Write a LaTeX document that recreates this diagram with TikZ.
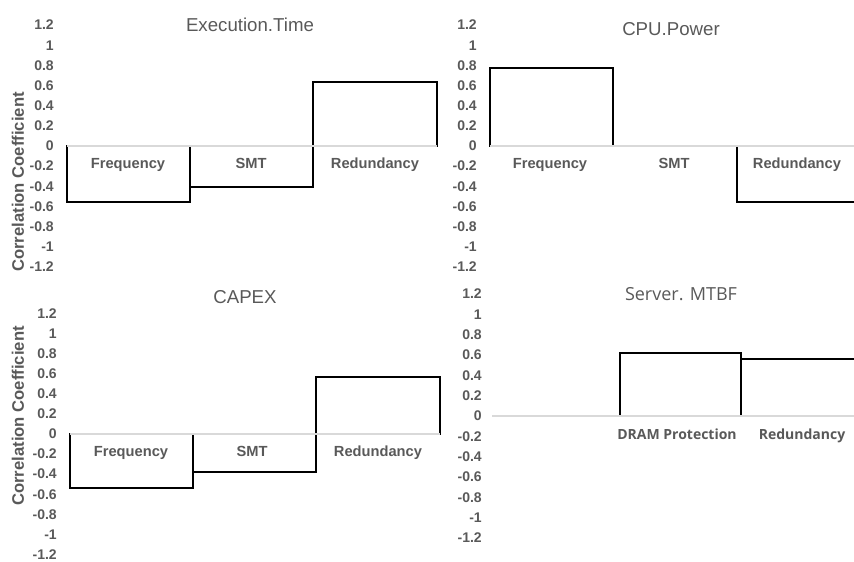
\documentclass[tikz,border=0pt]{standalone}
\usepackage{fontspec}
\setmainfont{Liberation Sans}
\newfontfamily\segoe{Open Sans}
\definecolor{txtgray}{HTML}{595959}
\definecolor{axgray}{HTML}{D9D9D9}

\begin{document}
\begin{tikzpicture}[x=0.75pt,y=-0.75pt,
  tick/.style={anchor=east,text=txtgray,inner sep=0pt,font=\bfseries\fontsize{10.5}{12}\selectfont},
  cat/.style={anchor=base,text=txtgray,inner sep=0pt,font=\bfseries\fontsize{11}{13}\selectfont},
  ttl/.style={anchor=base,text=txtgray,inner sep=0pt,font=\fontsize{14}{16}\selectfont},
  ylab/.style={rotate=90,text=txtgray,inner sep=0pt,font=\bfseries\fontsize{12.5}{14}\selectfont},
  bar/.style={draw=black,fill=white,line width=0.9pt},
  zero/.style={draw=axgray,line width=1pt}]
\useasboundingbox (0,0) rectangle (854,561);

% tick labels of the four panels
\foreach \px/\zy/\u/\p in {54/146/100.8/a, 477/146/100.8/b, 57/434/100.4/c, 482/416/101.7/d}
  \foreach \v [count=\i] in {1.2,1,0.8,0.6,0.4,0.2,0,-0.2,-0.4,-0.6,-0.8,-1,-1.2}
    \node[tick] (\p\i) at (\px,{\zy-\v*\u}) {\v};

% Execution.Time
\draw[bar] (67,146) rectangle (190,202);
\draw[bar] (190,146) rectangle (313,187);
\draw[bar] (313,146) rectangle (437,82);
\draw[zero] (67,146) -- (437,146);
\node[ttl] (ttlA) at (250,31) {Execution.Time};
\node[cat] (freqA) at (128,168) {Frequency};
\node[cat] (smtA) at (251,168) {SMT};
\node[cat] (redA) at (375,168) {Redundancy};
\node[ylab] (ylabA) at (18,182) {Correlation Coefficient};

% CPU.Power
\draw[bar] (490,146) rectangle (613,68);
\draw[bar,fill=none] (737,146) -- (737,202) -- (854,202);
\draw[zero] (490,146) -- (854,146);
\node[ttl] (ttlB) at (671,35) {CPU.Power};
\node[cat] (freqB) at (550,168) {Frequency};
\node[cat] (smtB) at (674,168) {SMT};
\node[cat] (redB) at (797,168) {Redundancy};

% CAPEX
\draw[bar] (70,434) rectangle (193,488);
\draw[bar] (193,434) rectangle (316,472);
\draw[bar] (316,434) rectangle (440,377);
\draw[zero] (70,434) -- (440,434);
\node[ttl] (ttlC) at (245,303) {CAPEX};
\node[cat] (freqC) at (131,456) {Frequency};
\node[cat] (smtC) at (252,456) {SMT};
\node[cat] (redC) at (378,456) {Redundancy};
\node[ylab] (ylabC) at (18,416) {Correlation Coefficient};

% Server. MTBF
\draw[bar] (620,416) rectangle (741,353);
\draw[bar,fill=none] (741,416) -- (741,359) -- (854,359);
\draw[zero] (492,416) -- (854,416);
\node[ttl,font=\segoe\fontsize{13.5}{16}\selectfont] (ttlD) at (681,300) {Server. MTBF};
\node[cat,font=\segoe\bfseries\fontsize{10.5}{12}\selectfont] (dramD) at (677,439) {DRAM Protection};
\node[cat,font=\segoe\bfseries\fontsize{10.5}{12}\selectfont] (redD) at (802,439) {Redundancy};
\end{tikzpicture}
\end{document}
